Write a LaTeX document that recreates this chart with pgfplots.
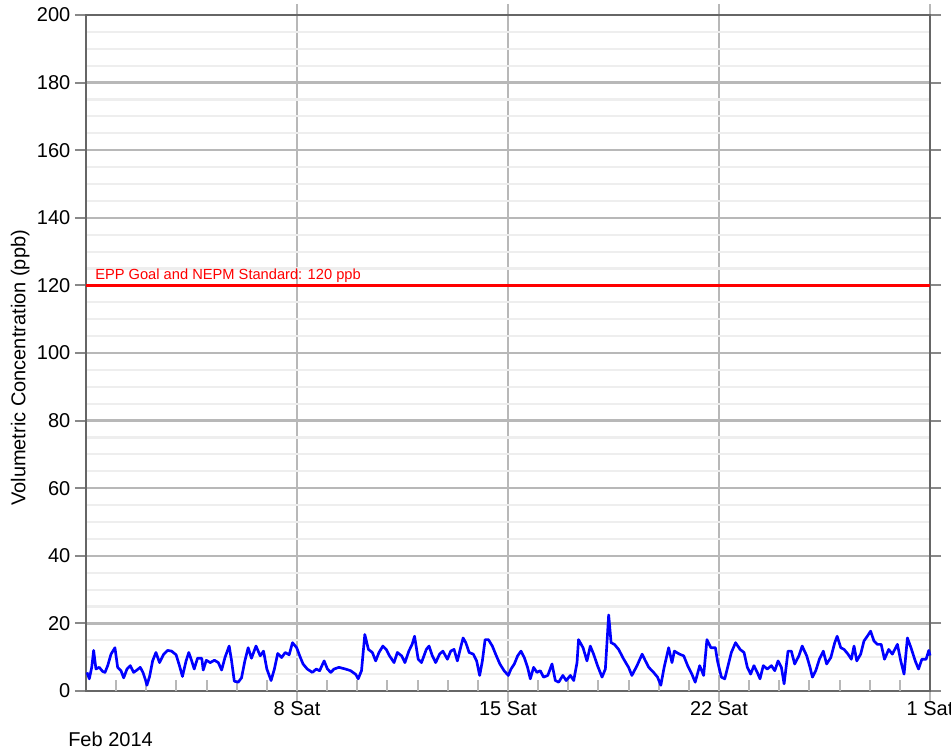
\documentclass[border=0pt]{standalone}
\usepackage{fontspec}
\setmainfont{Liberation Sans}
\usepackage{pgfplots}
\usepackage{pgfplotstable}
\pgfplotsset{compat=1.18}
\definecolor{axisgray}{HTML}{666666}
\definecolor{gridgray}{HTML}{B8B8B8}
\definecolor{minorgray}{HTML}{EEEEEE}
\definecolor{tickgray}{HTML}{888888}

\pgfplotstableread{
x y
1.033 5.5
1.11 3.6
1.19 7.0
1.254 12.0
1.33 6.5
1.44 7.0
1.55 5.8
1.63 5.5
1.72 7.5
1.83 10.9
1.96 12.8
2.05 7.0
2.16 6.0
2.25 3.9
2.36 6.5
2.47 7.5
2.58 5.5
2.69 6.2
2.80 7.0
2.89 5.5
2.98 3.1
3.02 1.7
3.11 4.3
3.21 8.9
3.32 11.4
3.44 8.4
3.58 10.9
3.71 12.0
3.84 11.8
3.99 10.7
4.10 7.5
4.20 4.3
4.32 8.9
4.41 11.4
4.50 9.1
4.59 6.5
4.70 9.7
4.84 9.7
4.89 6.2
4.99 9.1
5.12 8.4
5.26 9.1
5.39 8.4
5.50 6.2
5.61 9.9
5.75 13.3
5.83 8.9
5.92 2.9
6.05 2.6
6.16 3.9
6.27 8.9
6.38 12.8
6.49 9.7
6.64 13.3
6.78 10.4
6.89 11.8
7.00 6.5
7.14 3.1
7.25 6.5
7.36 11.1
7.49 9.9
7.61 11.4
7.74 10.7
7.85 14.3
7.99 12.8
8.09 10.4
8.20 8.0
8.34 6.5
8.51 5.5
8.64 6.5
8.75 6.0
8.90 8.9
9.01 6.5
9.12 5.5
9.23 6.5
9.39 7.0
9.61 6.5
9.78 6.0
9.95 4.9
10.03 3.6
10.14 6.0
10.25 16.7
10.37 12.3
10.50 11.4
10.61 8.9
10.72 11.4
10.85 13.3
10.96 12.3
11.07 10.4
11.22 8.4
11.33 11.4
11.47 10.4
11.58 8.4
11.71 11.8
11.82 13.8
11.90 16.2
12.02 9.4
12.13 8.4
12.29 12.3
12.38 13.3
12.49 10.4
12.60 8.4
12.73 10.9
12.84 11.8
12.99 9.4
13.10 11.8
13.21 12.3
13.32 8.9
13.40 11.8
13.51 15.7
13.60 14.3
13.71 11.4
13.85 10.9
13.96 8.9
14.06 4.6
14.15 8.9
14.24 15.2
14.35 15.2
14.48 13.3
14.59 10.9
14.73 8.0
14.87 6.0
15.01 4.6
15.10 6.5
15.21 8.0
15.32 10.4
15.43 11.8
15.54 9.9
15.65 7.0
15.74 3.6
15.85 7.0
15.96 5.5
16.07 6.0
16.18 4.1
16.32 4.6
16.46 8.0
16.57 3.1
16.68 2.6
16.82 4.6
16.93 3.1
17.07 4.6
17.18 3.1
17.29 8.4
17.34 15.2
17.49 12.8
17.62 8.9
17.73 13.3
17.84 10.9
17.97 7.5
18.12 4.1
18.23 6.5
18.34 22.5
18.42 14.3
18.53 13.8
18.67 12.3
18.84 9.4
19.00 7.0
19.11 4.6
19.28 7.5
19.45 10.9
19.56 8.9
19.67 7.0
19.83 5.5
19.96 4.1
20.07 1.7
20.18 7.0
20.33 12.8
20.44 8.4
20.52 11.8
20.69 10.9
20.83 10.4
20.96 7.5
21.10 5.0
21.21 2.6
21.36 7.5
21.49 4.6
21.60 15.2
21.73 12.8
21.88 12.8
21.95 8.9
22.00 7.0
22.08 4.1
22.19 3.6
22.30 7.5
22.41 11.4
22.55 14.3
22.70 12.3
22.83 11.4
22.94 7.0
23.05 5.0
23.16 7.5
23.27 5.5
23.36 3.6
23.47 7.5
23.60 6.5
23.74 7.5
23.85 6.0
23.96 8.9
24.07 7.0
24.16 2.1
24.29 11.8
24.40 11.8
24.51 8.0
24.65 10.4
24.76 13.3
24.91 10.4
25.02 7.0
25.10 4.1
25.21 6.0
25.33 9.4
25.46 11.8
25.57 8.0
25.71 9.9
25.84 14.3
25.92 16.2
26.04 12.8
26.15 12.3
26.28 10.9
26.39 9.4
26.48 13.3
26.57 8.9
26.70 10.9
26.81 14.8
26.92 16.2
27.03 17.7
27.14 14.8
27.25 13.8
27.38 13.8
27.49 9.4
27.63 12.3
27.75 10.9
27.92 13.8
28.03 8.9
28.14 5.0
28.25 15.7
28.37 12.8
28.51 8.9
28.62 6.5
28.73 9.4
28.87 9.4
28.96 12.0
29.00 10.5
}\datatable

\begin{document}
\begin{tikzpicture}[font=\fontsize{15}{18}\selectfont]
\path[use as bounding box] (-64.5pt,-46.5pt) rectangle (648.75pt,518.25pt);
\begin{axis}[
  at={(0,0)}, anchor=south west,
  width=633pt, height=507pt, scale only axis,
  xmin=1, xmax=29, ymin=0, ymax=200,
  xtick={8,15,22,29}, xticklabels={8 Sat,15 Sat,22 Sat,1 Sat},
  ytick={0,20,...,200},
  minor ytick={5,10,...,195},
  xmajorgrids, ymajorgrids, yminorgrids,
  major grid style={gridgray, line width=1.8pt},
  minor grid style={minorgray, line width=1.6pt},
  axis line style={axisgray, line width=2.2pt},
  tick align=outside,
  major tick length=8.25pt,
  minor tick length=0pt,
  xtick style={gridgray, line width=1.8pt},
  ytick style={tickgray, line width=1.6pt},
  /pgf/number format/assume math mode=true,
  tick label style={font=\fontsize{15}{18}\selectfont},
  xticklabel style={yshift=3.75pt},
  clip=false,
]
\pgfplotsinvokeforeach{2,...,28}{
  \draw[gridgray, line width=1.5pt] (axis cs:#1,0) -- ([yshift=8.25pt]axis cs:#1,0);
}
\addplot[red, line width=2pt] coordinates {(1,120) (29,120)};
\node[anchor=base west, inner sep=0pt, text=red, font=\fontsize{11}{13}\selectfont, xshift=6.75pt, yshift=4.5pt] at (axis cs:1,120) {EPP Goal and NEPM Standard: 120 ppb};
\addplot[blue, line width=2pt, line join=round] table[x=x, y=y] {\datatable};
\node[rotate=90, anchor=center] at (rel axis cs:-0.078,0.478) {Volumetric Concentration (ppb)};
\node[anchor=base west, inner sep=0pt, xshift=-13.5pt, yshift=-42pt] at (rel axis cs:0,0) {Feb 2014};
\end{axis}
\end{tikzpicture}
\end{document}
